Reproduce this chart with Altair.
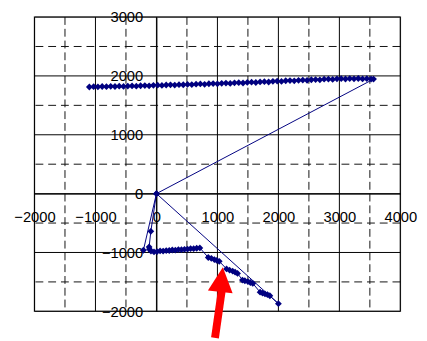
import altair as alt
import pandas as pd

# ---- data ----
upper_x = [-1100, -1030, -960, -890, -820, -750, -680, -610, -540, -470,
           -400, -330, -260, -190, -120, -50, 20, 90, 160, 230,
           300, 370, 440, 510, 580, 650, 720, 790, 860, 930,
           1000, 1070, 1140, 1210, 1280, 1350, 1420, 1490, 1560, 1630,
           1700, 1770, 1840, 1910, 1980, 2050, 2120, 2190, 2260, 2330,
           2400, 2470, 2540, 2610, 2680, 2750, 2820, 2890, 2960, 3030,
           3100, 3170, 3240, 3310, 3380, 3450, 3520, 3560]
upper_y = [1812, 1818, 1815, 1820, 1817, 1823, 1820, 1826, 1822, 1828,
           1830, 1826, 1833, 1836, 1832, 1840, 1842, 1838, 1846, 1849,
           1845, 1852, 1850, 1856, 1853, 1860, 1864, 1858, 1867, 1870,
           1866, 1874, 1878, 1872, 1882, 1885, 1880, 1890, 1893, 1888,
           1898, 1902, 1897, 1908, 1912, 1906, 1918, 1921, 1916, 1926,
           1930, 1925, 1935, 1938, 1933, 1944, 1946, 1941, 1950, 1953,
           1948, 1955, 1951, 1956, 1949, 1953, 1947, 1946]

lower_x = [0, 2000,
           1860, 1820, 1780, 1740, 1700,
           1580, 1540, 1500, 1450, 1410,
           1330, 1290, 1250, 1200, 1150,
           1030, 990, 950, 900, 850,
           712, 660, 610, 560, 510, 460, 410, 360, 310, 260, 210, 160, 110, 60, 10, -40,
           -90, -115, -120, -92, 0, -214]
lower_y = [0, -1870,
           -1735, -1715, -1705, -1690, -1675,
           -1525, -1510, -1495, -1480, -1468,
           -1355, -1335, -1318, -1300, -1280,
           -1150, -1135, -1120, -1100, -1085,
           -922, -928, -936, -934, -944, -947, -952, -950, -960, -958, -966, -968, -976, -974, -984, -990,
           -975, -945, -905, -640, 0, -962]

major_x = [-2000, -1000, 0, 1000, 2000, 3000, 4000]
minor_x = [-1500, -500, 500, 1500, 2500, 3500]
major_y = [-2000, -1000, 0, 1000, 2000, 3000]
minor_y = [-1500, -500, 500, 1500, 2500]

arrow_tail = [960, -2450]
arrow_base = [1073, -1633]
arrow_tip = [1089, -1250]

# ---- tables ----
px = upper_x + lower_x
py = upper_y + lower_y
path = pd.DataFrame({"x": px, "y": py, "i": list(range(len(px)))})
vx = pd.DataFrame({"v": minor_x})
vy = pd.DataFrame({"v": minor_y})
mx = pd.DataFrame({"v": major_x})
my = pd.DataFrame({"v": major_y})
shaft = pd.DataFrame({"x": [arrow_tail[0]], "y": [arrow_tail[1]],
                      "x2": [arrow_base[0]], "y2": [arrow_base[1]]})
head = pd.DataFrame({"x": [arrow_tip[0]], "y": [arrow_tip[1]]})

W, H = 373, 300
NAVY = "#000080"
FONT = "Liberation Sans"

xscale = alt.Scale(domain=[-2000, 4000], nice=False, zero=False)
yscale = alt.Scale(domain=[-2000, 3000], nice=False, zero=False)

common = dict(grid=False, ticks=False, domainColor="black", domainWidth=1,
              labelFlush=False, labelFont=FONT, labelFontSize=15, labelColor="black",
              title=None, labelOverlap=False, format="d")
xaxis = alt.Axis(values=major_x, offset=-H * 2000 / 5000, labelPadding=16, **common)
yaxis = alt.Axis(values=major_y, offset=-W * 2000 / 6000, labelPadding=14, **common)


def X(field):
    return alt.X(field, type="quantitative", scale=xscale, axis=xaxis)


def Y(field):
    return alt.Y(field, type="quantitative", scale=yscale, axis=yaxis)


minor_v = alt.Chart(vx).mark_rule(color="#111", strokeWidth=1, strokeDash=[8, 4]).encode(x=X("v"))
minor_h = alt.Chart(vy).mark_rule(color="#111", strokeWidth=1, strokeDash=[8, 5]).encode(y=Y("v"))
major_v = alt.Chart(mx).mark_rule(color="#000", strokeWidth=1).encode(x=X("v"))
major_h = alt.Chart(my).mark_rule(color="#000", strokeWidth=1).encode(y=Y("v"))

line = alt.Chart(path).mark_line(color=NAVY, strokeWidth=1).encode(
    x=X("x"), y=Y("y"), order=alt.Order("i:Q"))
pts = alt.Chart(path).mark_point(shape="diamond", filled=True, size=48, color=NAVY,
                                 opacity=1).encode(x=X("x"), y=Y("y"))

arrow_shaft = alt.Chart(shaft).mark_rule(color="#FF0000", strokeWidth=8, strokeCap="butt").encode(
    x=X("x"), y=Y("y"), x2="x2", y2="y2")
arrow_head = alt.Chart(head).mark_point(shape="M0,0L-1,2L1,2Z", filled=True, size=640,
                                        color="#FF0000", opacity=1, angle=6).encode(
    x=X("x"), y=Y("y"))

chart = alt.layer(minor_v, minor_h, major_v, major_h, line, pts, arrow_shaft, arrow_head).properties(
    width=W, height=H,
    autosize=alt.AutoSizeParams(type="none"),
    padding={"left": 27, "top": 6, "right": 19, "bottom": 27},
    background="white",
).configure_view(stroke="#808080", strokeWidth=1.5)

chart.save("out.html", embed_options={"renderer": "svg", "actions": False})
